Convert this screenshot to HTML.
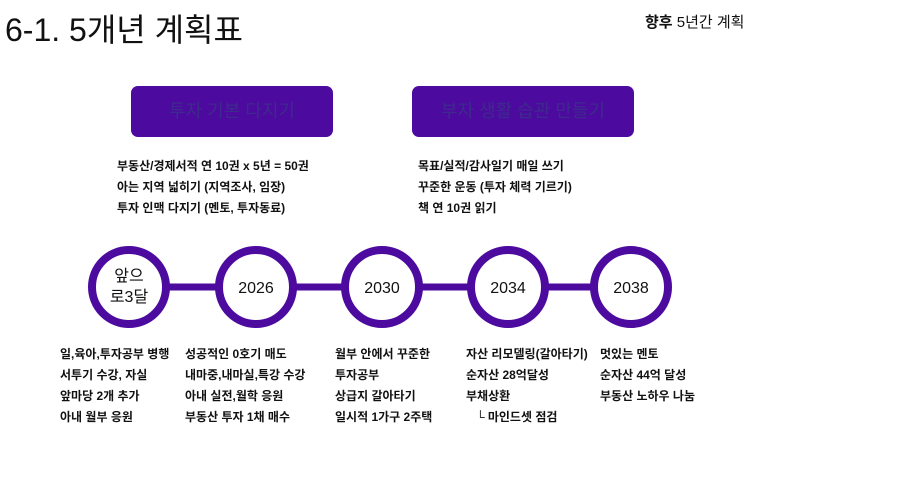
<!DOCTYPE html>
<html><head><meta charset="utf-8"><style>
body{margin:0;width:917px;height:492px;background:#fff;position:relative;overflow:hidden;font-family:"Liberation Sans","Noto Sans CJK KR",sans-serif;color:#111}
.a{position:absolute;white-space:nowrap}
.t{font-size:12px;font-weight:bold;line-height:21px}
.box{position:absolute;top:86px;height:51px;background:#4c0a9f;border-radius:7px;color:#3e2a8c;font-size:18px;text-align:center;line-height:51px}
</style></head><body>
<div class="a" style="left:5px;top:11px;font-size:32px;line-height:38px">6-1. 5개년 계획표</div>
<div class="a" style="left:645px;top:11px;font-size:15px"><b>향후</b> 5년간 계획</div>
<div class="box" style="left:131px;width:202px">투자 기본 다지기</div>
<div class="box" style="left:412px;width:222px">부자 생활 습관 만들기</div>
<div class="a t" style="left:117px;top:156px">부동산/경제서적 연 10권 x 5년 = 50권<br>아는 지역 넓히기 (지역조사, 임장)<br>투자 인맥 다지기 (멘토, 투자동료)</div>
<div class="a t" style="left:418px;top:156px">목표/실적/감사일기 매일 쓰기<br>꾸준한 운동 (투자 체력 기르기)<br>책 연 10권 읽기</div>
<svg class="a" style="left:0;top:0" width="917" height="492">
<line x1="130" y1="287" x2="631" y2="287" stroke="#4c0a9f" stroke-width="7"/>
<g fill="#fff" stroke="#4c0a9f" stroke-width="8">
<circle cx="129" cy="287" r="37"/><circle cx="256" cy="287" r="37"/><circle cx="382" cy="287" r="37"/><circle cx="508" cy="287" r="37"/><circle cx="631" cy="287" r="37"/></g>
<g font-family="Liberation Sans, Noto Sans CJK KR, sans-serif" font-size="16" text-anchor="middle" fill="#111">
<text x="129" y="281">앞으</text><text x="129" y="302">로3달</text>
<text x="256" y="293">2026</text><text x="382" y="293">2030</text><text x="508" y="293">2034</text><text x="631" y="293">2038</text></g>
</svg>
<div class="a t" style="left:60px;top:344px">일,육아,투자공부 병행<br>서투기 수강, 자실<br>앞마당 2개 추가<br>아내 월부 응원</div>
<div class="a t" style="left:185px;top:344px">성공적인 0호기 매도<br>내마중,내마실,특강 수강<br>아내 실전,월학 응원<br>부동산 투자 1채 매수</div>
<div class="a t" style="left:335px;top:344px">월부 안에서 꾸준한<br>투자공부<br>상급지 갈아타기<br>일시적 1가구 2주택</div>
<div class="a t" style="left:466px;top:344px">자산 리모델링(갈아타기)<br>순자산 28억달성<br>부채상환<br>&nbsp;&nbsp;&nbsp;└ 마인드셋 점검</div>
<div class="a t" style="left:600px;top:344px">멋있는 멘토<br>순자산 44억 달성<br>부동산 노하우 나눔</div>
</body></html>
